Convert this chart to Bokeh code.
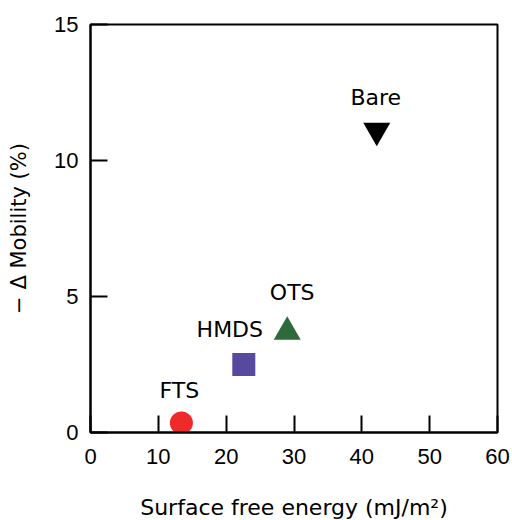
from bokeh.plotting import figure
from bokeh.models import Range1d, FixedTicker, ColumnDataSource
from bokeh.embed import file_html
from bokeh.resources import INLINE
from bokeh.core.properties import value

# ---- data ----
surfaces = ["FTS", "HMDS", "OTS", "Bare"]
surface_energy = [13.4, 22.6, 29.0, 42.2]
delta_mobility = [0.35, 2.5, 3.7, 11.1]
colors = ["#EE2A2A", "#574A9E", "#2E6B3A", "#000000"]
markers = ["circle", "square", "triangle", "inverted_triangle"]
x_ticks = [0, 10, 20, 30, 40, 50, 60]
y_ticks = [0, 5, 10, 15]

# ---- styling (marker sizes, label offsets in screen px) ----
marker_sizes = [23, 23, 27, 27]
label_dx = [-2, -14, 5, -1]
label_dy = [-32, -35, -39, -33]

src = ColumnDataSource(dict(x=surface_energy, y=delta_mobility, name=surfaces,
                            color=colors, marker=markers, size=marker_sizes,
                            dx=label_dx, dy=label_dy))

p = figure(frame_width=407, frame_height=408, output_backend="svg", toolbar_location=None,
           x_range=Range1d(0, 60), y_range=Range1d(0, 15),
           min_border_left=90, min_border_right=15, min_border_top=24, min_border_bottom=88)

p.xgrid.visible = False
p.ygrid.visible = False
p.background_fill_color = "white"
p.border_fill_color = "white"
p.outline_line_color = "black"
p.outline_line_width = 2
p.outline_line_alpha = 1.0

title_font = value("DejaVu Sans")

p.xaxis.ticker = FixedTicker(ticks=x_ticks)
p.yaxis.ticker = FixedTicker(ticks=y_ticks)
for ax in (p.xaxis, p.yaxis):
    ax.axis_line_width = 2
    ax.axis_line_color = "black"
    ax.major_tick_in = 17
    ax.major_tick_out = 0
    ax.major_tick_line_width = 2
    ax.major_tick_line_color = "black"
    ax.minor_tick_line_color = None
    ax.major_label_text_font = "Liberation Sans"
    ax.major_label_text_font_size = "22px"
    ax.major_label_text_color = "black"
    ax.axis_label_text_font = "DejaVu Sans"
    ax.axis_label_text_font_size = "22px"
    ax.axis_label_text_font_style = "normal"
    ax.axis_label_text_color = "black"

p.xaxis.axis_label = "Surface free energy (mJ/m²)"
p.yaxis.axis_label = "− Δ Mobility (%)"
p.yaxis.axis_label_text_font_size = "21px"
p.xaxis.major_label_standoff = 16
p.yaxis.major_label_standoff = 12
p.xaxis.axis_label_standoff = 28
p.yaxis.axis_label_standoff = 20

p.scatter(x="x", y="y", marker="marker", size="size", fill_color="color",
          line_color="color", line_width=0, source=src)

p.text(x="x", y="y", text="name", x_offset="dx", y_offset="dy", source=src,
       text_align="center", text_baseline="middle", text_font=title_font,
       text_font_size="22px", text_color="black")

open("out.html", "w").write(file_html(p, INLINE))
